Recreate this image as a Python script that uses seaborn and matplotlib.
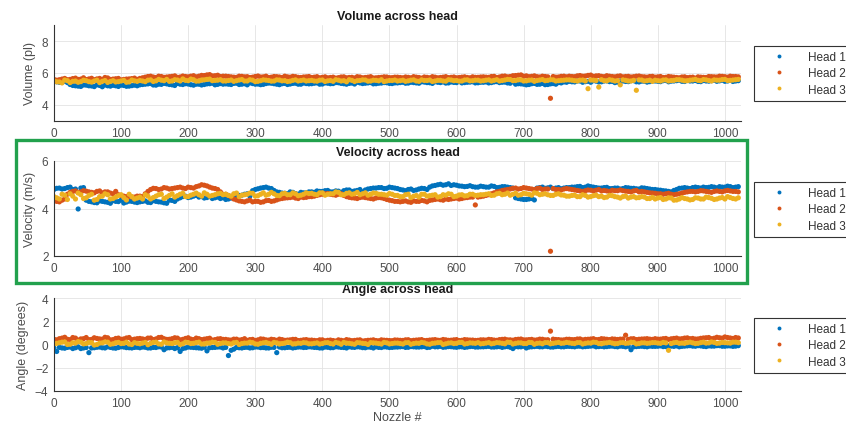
import numpy as np
import pandas as pd
import seaborn as sns
import matplotlib
matplotlib.use("Agg")
import matplotlib.pyplot as plt
from matplotlib.patches import Rectangle

# ---------------- data ----------------
# pass A: nozzles 4, 12, ..., 1020 ; pass B: nozzles 0, 8, ..., 1016
nozzle_a = list(range(4, 1024, 8))
nozzle_b = list(range(0, 1024, 8))
heads = ["Head 1", "Head 2", "Head 3"]

vol_h1 = [5.45, 5.5, 5.4, 5.22, 5.18, 5.25, 5.2, 5.15, 5.22, 5.25, 5.18, 5.2, 5.24, 5.17, 5.21, 5.2,
          5.28, 5.32, 5.25, 5.3, 5.35, 5.28, 5.22, 5.3, 5.33, 5.27, 5.3, 5.25, 5.32, 5.36, 5.29, 5.3,
          5.3, 5.35, 5.28, 5.33, 5.38, 5.3, 5.27, 5.34, 5.36, 5.3, 5.33, 5.28, 5.35, 5.3, 5.37, 5.32,
          5.36, 5.3, 5.38, 5.33, 5.4, 5.35, 5.3, 5.37, 5.42, 5.34, 5.38, 5.32, 5.36, 5.4, 5.35, 5.38,
          5.4, 5.36, 5.42, 5.38, 5.45, 5.4, 5.35, 5.42, 5.44, 5.38, 5.41, 5.46, 5.4, 5.43, 5.38, 5.42,
          5.44, 5.4, 5.46, 5.42, 5.38, 5.45, 5.33, 5.3, 5.28, 5.35, 5.3, 5.27, 5.32, 5.3, 5.38, 5.42,
          5.45, 5.5, 5.42, 5.48, 5.52, 5.44, 5.5, 5.46, 5.4, 5.5, 5.47, 5.52, 5.45, 5.49, 5.43, 5.5,
          5.48, 5.52, 5.45, 5.5, 5.55, 5.47, 5.5, 5.53, 5.46, 5.5, 5.52, 5.48, 5.55, 5.5, 5.47, 5.52]
vol_h1_b = [5.5, 5.42, 5.48, 5.28, 5.2, 5.16, 5.24, 5.19, 5.26, 5.14, 5.2, 5.23, 5.16, 5.22, 5.18, 5.24,
            5.26, 5.3, 5.34, 5.24, 5.29, 5.32, 5.26, 5.35, 5.28, 5.31, 5.24, 5.3, 5.28, 5.33, 5.26, 5.34,
            5.32, 5.28, 5.36, 5.3, 5.26, 5.34, 5.31, 5.29, 5.37, 5.33, 5.27, 5.35, 5.31, 5.36, 5.3, 5.34,
            5.33, 5.38, 5.31, 5.36, 5.34, 5.39, 5.33, 5.35, 5.31, 5.38, 5.36, 5.4, 5.33, 5.37, 5.39, 5.34,
            5.38, 5.42, 5.37, 5.4, 5.36, 5.43, 5.39, 5.45, 5.4, 5.37, 5.44, 5.4, 5.38, 5.42, 5.45, 5.39,
            5.42, 5.38, 5.44, 5.4, 5.43, 5.36, 5.3, 5.32, 5.26, 5.33, 5.29, 5.35, 5.28, 5.34, 5.4, 5.44,
            5.48, 5.44, 5.5, 5.46, 5.42, 5.49, 5.45, 5.51, 5.47, 5.43, 5.5, 5.46, 5.52, 5.44, 5.48, 5.46,
            5.5, 5.46, 5.53, 5.49, 5.52, 5.48, 5.54, 5.5, 5.47, 5.53, 5.49, 5.55, 5.51, 5.48, 5.54, 5.5]
vol_h2 = [5.55, 5.62, 5.58, 5.65, 5.6, 5.7, 5.63, 5.58, 5.66, 5.72, 5.6, 5.64, 5.57, 5.62, 5.65, 5.6,
          5.7, 5.78, 5.75, 5.8, 5.73, 5.77, 5.82, 5.75, 5.78, 5.8, 5.76, 5.85, 5.88, 5.82, 5.86, 5.8,
          5.78, 5.74, 5.8, 5.76, 5.72, 5.78, 5.75, 5.8, 5.74, 5.77, 5.72, 5.76, 5.79, 5.73, 5.75, 5.78,
          5.74, 5.7, 5.76, 5.72, 5.68, 5.75, 5.7, 5.73, 5.77, 5.7, 5.74, 5.69, 5.72, 5.76, 5.71, 5.74,
          5.72, 5.75, 5.7, 5.74, 5.68, 5.73, 5.77, 5.7, 5.74, 5.71, 5.75, 5.72, 5.76, 5.7, 5.73, 5.75,
          5.74, 5.78, 5.72, 5.8, 5.76, 5.83, 5.86, 5.8, 5.77, 5.82, 5.75, 5.78, 4.42, 5.74, 5.79, 5.76,
          5.78, 5.82, 5.8, 5.85, 5.79, 5.83, 5.77, 5.8, 5.76, 5.82, 5.78, 5.75, 5.8, 5.77, 5.74, 5.79,
          5.76, 5.72, 5.78, 5.74, 5.7, 5.76, 5.73, 5.68, 5.74, 5.72, 5.77, 5.75, 5.79, 5.74, 5.78, 5.76]
vol_h2_b = [5.6, 5.58, 5.66, 5.6, 5.68, 5.62, 5.59, 5.67, 5.63, 5.6, 5.69, 5.62, 5.66, 5.6, 5.63, 5.68,
            5.66, 5.74, 5.8, 5.72, 5.78, 5.75, 5.79, 5.73, 5.81, 5.76, 5.83, 5.8, 5.84, 5.9, 5.83, 5.78,
            5.8, 5.76, 5.73, 5.79, 5.77, 5.74, 5.81, 5.76, 5.72, 5.78, 5.75, 5.8, 5.74, 5.77, 5.72, 5.76,
            5.72, 5.77, 5.73, 5.7, 5.74, 5.71, 5.76, 5.72, 5.69, 5.75, 5.72, 5.77, 5.7, 5.73, 5.75, 5.71,
            5.74, 5.7, 5.73, 5.77, 5.72, 5.75, 5.7, 5.74, 5.72, 5.77, 5.73, 5.7, 5.74, 5.72, 5.76, 5.73,
            5.76, 5.73, 5.79, 5.75, 5.81, 5.78, 5.84, 5.88, 5.82, 5.79, 5.77, 5.8, 5.76, 5.78, 5.75, 5.8,
            5.8, 5.77, 5.84, 5.81, 5.87, 5.82, 5.79, 5.83, 5.78, 5.8, 5.76, 5.79, 5.77, 5.81, 5.76, 5.78,
            5.74, 5.78, 5.73, 5.76, 5.72, 5.75, 5.71, 5.74, 5.76, 5.73, 5.78, 5.76, 5.8, 5.77, 5.8, 5.78]
vol_h3 = [5.45, 5.38, 5.52, 5.48, 5.42, 5.55, 5.46, 5.5, 5.4, 5.53, 5.47, 5.44, 5.5, 5.42, 5.56, 5.48,
          5.5, 5.55, 5.47, 5.6, 5.52, 5.48, 5.58, 5.5, 5.54, 5.62, 5.49, 5.56, 5.6, 5.52, 5.55, 5.5,
          5.53, 5.48, 5.56, 5.5, 5.58, 5.46, 5.52, 5.55, 5.49, 5.57, 5.51, 5.47, 5.54, 5.5, 5.56, 5.52,
          5.5, 5.55, 5.47, 5.53, 5.58, 5.5, 5.45, 5.54, 5.52, 5.57, 5.49, 5.55, 5.51, 5.46, 5.53, 5.56,
          5.52, 5.48, 5.55, 5.5, 5.57, 5.53, 5.47, 5.54, 5.5, 5.58, 5.52, 5.49, 5.56, 5.51, 5.55, 5.5,
          5.55, 5.5, 5.58, 5.53, 5.6, 5.52, 5.57, 5.5, 5.55, 5.48, 5.56, 5.52, 5.58, 5.5, 5.54, 5.57,
          5.55, 5.5, 5.56, 5.02, 5.55, 5.12, 5.52, 5.58, 5.5, 5.26, 5.54, 5.5, 4.92, 5.56, 5.52, 5.48,
          5.52, 5.56, 5.5, 5.54, 5.58, 5.51, 5.55, 5.6, 5.52, 5.57, 5.5, 5.55, 5.59, 5.53, 5.56, 5.6]
vol_h3_b = [5.5, 5.44, 5.56, 5.4, 5.5, 5.46, 5.52, 5.43, 5.55, 5.48, 5.41, 5.52, 5.46, 5.54, 5.44, 5.51,
            5.53, 5.46, 5.57, 5.51, 5.55, 5.6, 5.5, 5.56, 5.63, 5.52, 5.58, 5.5, 5.57, 5.62, 5.54, 5.58,
            5.5, 5.56, 5.52, 5.59, 5.5, 5.55, 5.48, 5.57, 5.53, 5.5, 5.56, 5.52, 5.49, 5.57, 5.53, 5.5,
            5.54, 5.49, 5.56, 5.51, 5.48, 5.55, 5.52, 5.58, 5.47, 5.53, 5.56, 5.5, 5.54, 5.58, 5.5, 5.53,
            5.5, 5.55, 5.51, 5.57, 5.48, 5.53, 5.56, 5.5, 5.54, 5.49, 5.56, 5.53, 5.5, 5.57, 5.52, 5.55,
            5.52, 5.57, 5.54, 5.5, 5.56, 5.59, 5.53, 5.57, 5.51, 5.56, 5.53, 5.59, 5.54, 5.57, 5.52, 5.55,
            5.57, 5.52, 5.55, 5.5, 5.56, 5.53, 5.58, 5.51, 5.55, 5.52, 5.57, 5.5, 5.54, 5.57, 5.5, 5.55,
            5.55, 5.5, 5.57, 5.53, 5.58, 5.55, 5.52, 5.57, 5.54, 5.59, 5.53, 5.57, 5.55, 5.6, 5.54, 5.58]

vel_h1 = [4.85, 4.82, 4.88, 4.8, 3.98, 4.88, 4.3, 4.25, 4.32, 4.28, 4.22, 4.3, 4.35, 4.27, 4.3, 4.25,
          4.3, 4.26, 4.33, 4.28, 4.24, 4.35, 4.3, 4.45, 4.52, 4.48, 4.55, 4.5, 4.46, 4.42, 4.48, 4.45,
          4.4, 4.47, 4.55, 4.6, 4.52, 4.8, 4.86, 4.9, 4.84, 4.7, 4.65, 4.62, 4.68, 4.6, 4.66, 4.7,
          4.68, 4.72, 4.75, 4.7, 4.74, 4.68, 4.78, 4.72, 4.76, 4.7, 4.82, 4.86, 4.88, 4.84, 4.9, 4.86,
          4.8, 4.75, 4.82, 4.78, 4.85, 4.8, 4.95, 5.0, 4.98, 5.04, 5.0, 4.95, 4.92, 4.96, 4.9, 4.94,
          4.9, 4.95, 4.88, 4.92, 4.9, 4.86, 4.42, 4.38, 4.4, 4.36, 4.88, 4.85, 4.9, 4.86, 4.83, 4.88,
          4.9, 4.92, 4.88, 4.95, 4.9, 4.86, 4.88, 4.84, 4.86, 4.82, 4.88, 4.85, 4.83, 4.87, 4.84, 4.8,
          4.78, 4.75, 4.72, 4.76, 4.85, 4.88, 4.84, 4.9, 4.86, 4.88, 4.92, 4.87, 4.9, 4.94, 4.88, 4.92]
vel_h1_b = [4.8, 4.86, 4.84, 4.9, 4.82, 4.86, 4.35, 4.28, 4.24, 4.3, 4.26, 4.33, 4.29, 4.23, 4.31, 4.27,
            4.28, 4.32, 4.25, 4.3, 4.27, 4.22, 4.34, 4.4, 4.5, 4.46, 4.52, 4.48, 4.44, 4.5, 4.45, 4.42,
            4.38, 4.44, 4.5, 4.56, 4.62, 4.75, 4.83, 4.88, 4.86, 4.76, 4.68, 4.64, 4.7, 4.63, 4.68, 4.66,
            4.7, 4.74, 4.72, 4.76, 4.7, 4.73, 4.75, 4.78, 4.74, 4.8, 4.78, 4.84, 4.86, 4.88, 4.85, 4.88,
            4.84, 4.78, 4.8, 4.76, 4.82, 4.84, 4.9, 4.97, 5.02, 5.0, 4.97, 4.98, 4.94, 4.93, 4.92, 4.9,
            4.92, 4.9, 4.93, 4.89, 4.92, 4.88, 4.45, 4.4, 4.38, 4.42, 4.86, 4.9, 4.87, 4.84, 4.88, 4.86,
            4.88, 4.9, 4.93, 4.9, 4.92, 4.88, 4.86, 4.89, 4.84, 4.86, 4.84, 4.87, 4.85, 4.82, 4.86, 4.82,
            4.8, 4.77, 4.74, 4.7, 4.8, 4.86, 4.86, 4.88, 4.88, 4.9, 4.89, 4.9, 4.92, 4.9, 4.92, 4.9]
vel_h2 = [4.3, 4.35, 4.6, 4.72, 4.68, 4.75, 4.7, 4.66, 4.74, 4.7, 4.65, 4.72, 4.55, 4.5, 4.48, 4.52,
          4.5, 4.72, 4.85, 4.8, 4.88, 4.82, 4.86, 4.9, 4.84, 4.88, 4.92, 5.0, 4.95, 4.86, 4.8, 4.6,
          4.55, 4.4, 4.32, 4.28, 4.35, 4.3, 4.26, 4.33, 4.3, 4.36, 4.42, 4.45, 4.48, 4.42, 4.46, 4.5,
          4.52, 4.58, 4.62, 4.6, 4.56, 4.62, 4.5, 4.45, 4.42, 4.48, 4.44, 4.4, 4.46, 4.42, 4.35, 4.3,
          4.28, 4.32, 4.26, 4.3, 4.34, 4.28, 4.36, 4.4, 4.35, 4.38, 4.42, 4.4, 4.45, 4.48, 4.15, 4.5,
          4.55, 4.62, 4.7, 4.76, 4.8, 4.85, 4.82, 4.88, 4.84, 4.8, 4.86, 4.82, 2.2, 4.8, 4.78, 4.84,
          4.8, 4.76, 4.72, 4.78, 4.74, 4.8, 4.76, 4.72, 4.75, 4.78, 4.73, 4.7, 4.76, 4.72, 4.68, 4.65,
          4.62, 4.6, 4.64, 4.58, 4.62, 4.68, 4.72, 4.7, 4.75, 4.72, 4.68, 4.74, 4.7, 4.76, 4.72, 4.7]
vel_h2_b = [4.35, 4.28, 4.4, 4.68, 4.74, 4.7, 4.73, 4.68, 4.72, 4.66, 4.7, 4.62, 4.58, 4.52, 4.5, 4.48,
            4.52, 4.62, 4.8, 4.84, 4.82, 4.86, 4.84, 4.88, 4.86, 4.9, 4.86, 4.95, 4.98, 4.9, 4.84, 4.7,
            4.6, 4.48, 4.36, 4.3, 4.32, 4.28, 4.3, 4.28, 4.34, 4.32, 4.4, 4.44, 4.46, 4.44, 4.48, 4.47,
            4.5, 4.55, 4.6, 4.63, 4.58, 4.6, 4.55, 4.47, 4.44, 4.46, 4.46, 4.42, 4.44, 4.45, 4.38, 4.33,
            4.3, 4.3, 4.28, 4.32, 4.3, 4.32, 4.34, 4.38, 4.37, 4.4, 4.4, 4.44, 4.42, 4.46, 4.48, 4.48,
            4.52, 4.58, 4.66, 4.72, 4.78, 4.82, 4.86, 4.84, 4.86, 4.82, 4.84, 4.8, 4.82, 4.84, 4.8, 4.82,
            4.82, 4.78, 4.74, 4.75, 4.77, 4.77, 4.74, 4.74, 4.77, 4.75, 4.75, 4.72, 4.74, 4.7, 4.7, 4.66,
            4.64, 4.62, 4.62, 4.6, 4.6, 4.65, 4.7, 4.72, 4.72, 4.74, 4.7, 4.72, 4.72, 4.74, 4.74, 4.72]
vel_h3 = [4.45, 4.6, 4.38, 4.52, 4.65, 4.42, 4.55, 4.35, 4.5, 4.62, 4.4, 4.48, 4.58, 4.36, 4.5, 4.44,
          4.4, 4.52, 4.46, 4.58, 4.42, 4.55, 4.48, 4.6, 4.5, 4.56, 4.65, 4.52, 4.6, 4.55, 4.62, 4.58,
          4.55, 4.62, 4.5, 4.58, 4.65, 4.52, 4.6, 4.56, 4.68, 4.55, 4.62, 4.58, 4.66, 4.54, 4.6, 4.63,
          4.6, 4.66, 4.56, 4.62, 4.7, 4.58, 4.64, 4.6, 4.68, 4.62, 4.56, 4.65, 4.6, 4.58, 4.63, 4.55,
          4.5, 4.58, 4.46, 4.55, 4.6, 4.52, 4.56, 4.48, 4.58, 4.62, 4.5, 4.57, 4.53, 4.6, 4.55, 4.58,
          4.6, 4.55, 4.62, 4.58, 4.65, 4.6, 4.56, 4.64, 4.6, 4.66, 4.58, 4.62, 4.55, 4.6, 4.57, 4.52,
          4.55, 4.5, 4.58, 4.48, 4.54, 4.5, 4.46, 4.55, 4.5, 4.44, 4.52, 4.48, 4.45, 4.5, 4.42, 4.47,
          4.44, 4.38, 4.45, 4.35, 4.4, 4.42, 4.36, 4.45, 4.4, 4.48, 4.43, 4.4, 4.46, 4.5, 4.42, 4.45]
vel_h3_b = [4.5, 4.4, 4.56, 4.62, 4.4, 4.58, 4.45, 4.6, 4.38, 4.52, 4.58, 4.42, 4.54, 4.46, 4.6, 4.4,
            4.48, 4.58, 4.4, 4.52, 4.6, 4.48, 4.62, 4.54, 4.64, 4.5, 4.6, 4.58, 4.66, 4.52, 4.58, 4.64,
            4.6, 4.52, 4.65, 4.56, 4.6, 4.64, 4.54, 4.66, 4.6, 4.62, 4.54, 4.64, 4.58, 4.62, 4.56, 4.66,
            4.64, 4.58, 4.66, 4.6, 4.62, 4.68, 4.58, 4.66, 4.62, 4.58, 4.66, 4.6, 4.64, 4.6, 4.56, 4.6,
            4.55, 4.5, 4.6, 4.52, 4.48, 4.6, 4.54, 4.58, 4.5, 4.56, 4.6, 4.52, 4.58, 4.54, 4.6, 4.56,
            4.58, 4.62, 4.56, 4.64, 4.6, 4.56, 4.64, 4.58, 4.62, 4.56, 4.64, 4.6, 4.58, 4.55, 4.62, 4.56,
            4.52, 4.56, 4.5, 4.55, 4.5, 4.56, 4.52, 4.48, 4.54, 4.48, 4.5, 4.44, 4.5, 4.46, 4.48, 4.42,
            4.4, 4.46, 4.4, 4.44, 4.36, 4.46, 4.4, 4.38, 4.44, 4.4, 4.46, 4.38, 4.44, 4.4, 4.46, 4.4]

ang_h1 = [-0.6, -0.3, -0.25, -0.35, -0.2, -0.3, -0.7, -0.28, -0.22, -0.3, -0.25, -0.32, -0.2, -0.27, -0.3, -0.24,
          -0.22, -0.3, -0.25, -0.2, -0.45, -0.28, -0.35, -0.6, -0.3, -0.24, -0.28, -0.32, -0.55, -0.26, -0.22, -0.3,
          -0.95, -0.4, -0.28, -0.25, -0.3, -0.22, -0.27, -0.3, -0.24, -0.7, -0.28, -0.25, -0.3, -0.22, -0.26, -0.2,
          -0.25, -0.3, -0.22, -0.28, -0.2, -0.25, -0.3, -0.24, -0.2, -0.27, -0.22, -0.3, -0.25, -0.2, -0.26, -0.22,
          -0.2, -0.25, -0.18, -0.22, -0.2, -0.26, -0.15, -0.2, -0.24, -0.18, -0.22, -0.2, -0.25, -0.18, -0.22, -0.2,
          -0.18, -0.22, -0.2, -0.25, -0.18, -0.35, -0.2, -0.15, -0.22, -0.18, -0.2, -0.15, -0.22, -0.18, -0.2, -0.16,
          -0.18, -0.15, -0.2, -0.16, -0.12, -0.18, -0.2, -0.15, -0.18, -0.14, -0.2, -0.45, -0.18, -0.15, -0.2, -0.16,
          -0.15, -0.18, -0.12, -0.16, -0.2, -0.14, -0.1, -0.15, -0.12, -0.18, -0.14, -0.1, -0.15, -0.12, -0.16, -0.1]
ang_h1_b = [-0.3, -0.25, -0.32, -0.22, -0.28, -0.35, -0.26, -0.3, -0.24, -0.28, -0.2, -0.3, -0.26, -0.22, -0.28, -0.25,
            -0.28, -0.24, -0.3, -0.26, -0.22, -0.3, -0.25, -0.28, -0.35, -0.22, -0.26, -0.3, -0.24, -0.28, -0.25, -0.22,
            -0.25, -0.5, -0.26, -0.3, -0.24, -0.28, -0.22, -0.26, -0.3, -0.25, -0.22, -0.28, -0.24, -0.26, -0.22, -0.25,
            -0.22, -0.26, -0.3, -0.24, -0.27, -0.22, -0.26, -0.2, -0.25, -0.22, -0.28, -0.24, -0.2, -0.26, -0.22, -0.25,
            -0.22, -0.18, -0.24, -0.2, -0.22, -0.18, -0.24, -0.2, -0.16, -0.22, -0.19, -0.24, -0.2, -0.22, -0.17, -0.22,
            -0.2, -0.16, -0.22, -0.18, -0.2, -0.24, -0.18, -0.2, -0.3, -0.2, -0.16, -0.2, -0.18, -0.22, -0.16, -0.2,
            -0.16, -0.2, -0.15, -0.18, -0.14, -0.2, -0.16, -0.18, -0.14, -0.2, -0.16, -0.15, -0.2, -0.16, -0.18, -0.14,
            -0.16, -0.12, -0.18, -0.14, -0.12, -0.16, -0.12, -0.14, -0.1, -0.16, -0.12, -0.14, -0.1, -0.15, -0.12, -0.14]
ang_h2 = [0.4, 0.55, 0.45, 0.6, 0.38, 0.5, 0.42, 0.58, 0.48, 0.62, 0.4, 0.52, 0.45, 0.56, 0.42, 0.5,
          0.48, 0.55, 0.42, 0.6, 0.5, 0.45, 0.58, 0.4, 0.52, 0.46, 0.55, 0.42, 0.5, 0.38, 0.48, 0.44,
          0.4, 0.46, 0.38, 0.5, 0.42, 0.35, 0.48, 0.4, 0.45, 0.36, 0.42, 0.38, 0.44, 0.34, 0.4, 0.37,
          0.35, 0.4, 0.32, 0.38, 0.3, 0.36, 0.42, 0.33, 0.38, 0.3, 0.36, 0.4, 0.32, 0.37, 0.34, 0.39,
          0.36, 0.4, 0.33, 0.38, 0.42, 0.35, 0.4, 0.37, 0.43, 0.36, 0.4, 0.34, 0.42, 0.38, 0.35, 0.4,
          0.38, 0.42, 0.36, 0.44, 0.4, 0.37, 0.45, 0.4, 0.42, 0.38, 0.46, 0.4, 1.15, 0.43, 0.39, 0.45,
          0.42, 0.47, 0.4, 0.45, 0.5, 0.43, 0.48, 0.42, 0.46, 0.46, 0.8, 0.49, 0.42, 0.47, 0.5, 0.44,
          0.46, 0.5, 0.44, 0.52, 0.48, 0.55, 0.5, 0.47, 0.53, 0.58, 0.5, 0.62, 0.55, 0.6, 0.52, 0.56]
ang_h2_b = [0.45, 0.5, 0.62, 0.42, 0.55, 0.48, 0.6, 0.44, 0.52, 0.46, 0.58, 0.42, 0.55, 0.48, 0.6, 0.46,
            0.52, 0.44, 0.56, 0.48, 0.62, 0.44, 0.5, 0.55, 0.44, 0.58, 0.42, 0.5, 0.46, 0.54, 0.42, 0.5,
            0.44, 0.38, 0.46, 0.42, 0.36, 0.44, 0.4, 0.46, 0.38, 0.42, 0.46, 0.36, 0.4, 0.44, 0.36, 0.42,
            0.38, 0.33, 0.4, 0.36, 0.34, 0.4, 0.32, 0.38, 0.35, 0.4, 0.33, 0.37, 0.34, 0.4, 0.36, 0.33,
            0.38, 0.35, 0.41, 0.36, 0.4, 0.34, 0.38, 0.42, 0.36, 0.4, 0.37, 0.42, 0.36, 0.4, 0.38, 0.36,
            0.4, 0.44, 0.38, 0.42, 0.46, 0.4, 0.43, 0.47, 0.4, 0.44, 0.4, 0.45, 0.41, 0.46, 0.42, 0.4,
            0.45, 0.42, 0.48, 0.44, 0.47, 0.42, 0.5, 0.45, 0.48, 0.43, 0.47, 0.44, 0.5, 0.45, 0.48, 0.46,
            0.5, 0.46, 0.52, 0.49, 0.55, 0.5, 0.57, 0.52, 0.48, 0.56, 0.6, 0.54, 0.58, 0.65, 0.56, 0.6]
ang_h3 = [0.1, 0.2, 0.0, 0.15, 0.25, 0.05, 0.18, -0.05, 0.12, 0.22, 0.02, 0.15, 0.08, 0.2, 0.0, 0.1,
          0.12, -0.02, 0.18, 0.05, 0.22, 0.1, 0.15, 0.0, 0.2, 0.08, 0.16, 0.04, 0.12, 0.2, 0.02, 0.14,
          0.08, 0.15, 0.0, 0.12, 0.2, 0.05, 0.1, 0.18, 0.02, 0.14, 0.08, 0.2, 0.04, 0.12, 0.16, 0.06,
          0.1, 0.04, 0.15, 0.08, 0.18, 0.02, 0.12, 0.06, 0.16, 0.1, 0.0, 0.14, 0.08, 0.18, 0.05, 0.12,
          0.08, 0.15, 0.02, 0.12, 0.18, 0.05, 0.1, 0.16, 0.0, 0.12, 0.08, 0.18, 0.04, 0.14, 0.1, 0.06,
          0.12, 0.06, 0.16, 0.1, 0.2, 0.04, 0.14, 0.08, 0.18, 0.02, 0.12, 0.16, 0.06, 0.14, 0.1, 0.18,
          0.1, 0.16, 0.04, 0.14, 0.2, 0.08, 0.12, 0.18, 0.06, 0.15, 0.1, 0.2, 0.05, 0.14, 0.1, 0.16,
          0.12, 0.18, -0.5, 0.15, 0.1, 0.1, 0.2, 0.08, 0.16, 0.12, 0.22, 0.1, 0.18, 0.14, 0.2, 0.16]
ang_h3_b = [0.05, 0.15, 0.22, 0.02, 0.12, 0.2, 0.08, 0.16, 0.0, 0.14, 0.2, 0.06, 0.18, 0.1, 0.04, 0.16,
            0.06, 0.18, 0.1, 0.2, 0.02, 0.14, 0.08, 0.18, 0.06, 0.16, 0.1, 0.2, 0.04, 0.12, 0.18, 0.08,
            0.14, 0.04, 0.18, 0.08, 0.12, 0.16, 0.02, 0.14, 0.1, 0.18, 0.04, 0.12, 0.16, 0.06, 0.1, 0.14,
            0.06, 0.14, 0.08, 0.16, 0.04, 0.12, 0.18, 0.1, 0.02, 0.14, 0.08, 0.16, 0.12, 0.04, 0.14, 0.08,
            0.12, 0.04, 0.16, 0.08, 0.1, 0.14, 0.02, 0.12, 0.16, 0.06, 0.14, 0.1, 0.18, 0.08, 0.12, 0.16,
            0.08, 0.16, 0.1, 0.14, 0.06, 0.18, 0.1, 0.14, 0.08, 0.16, 0.1, 0.06, 0.16, 0.1, 0.18, 0.12,
            0.14, 0.08, 0.16, 0.1, 0.12, 0.18, 0.06, 0.14, 0.12, 0.08, 0.16, 0.12, 0.18, 0.08, 0.14, 0.12,
            0.16, 0.1, 0.14, 0.08, 0.18, 0.12, 0.16, 0.14, 0.1, 0.2, 0.14, 0.18, 0.12, 0.16, 0.12, 0.2]

x_ticks = [0, 100, 200, 300, 400, 500, 600, 700, 800, 900, 1000]
panels = [
    ("Volume across head", "Volume (pl)",
     [(vol_h1, vol_h1_b), (vol_h2, vol_h2_b), (vol_h3, vol_h3_b)], (3, 9), [4, 6, 8]),
    ("Velocity across head", "Velocity (m/s)",
     [(vel_h1, vel_h1_b), (vel_h2, vel_h2_b), (vel_h3, vel_h3_b)], (2, 6), [2, 4, 6]),
    ("Angle across head", "Angle (degrees)",
     [(ang_h1, ang_h1_b), (ang_h2, ang_h2_b), (ang_h3, ang_h3_b)], (-4, 4), [-4, -2, 0, 2, 4]),
]
palette = {"Head 1": "#0072BD", "Head 2": "#D95319", "Head 3": "#EDB120"}

# ---------------- figure ----------------
sns.set_theme(style="white")
plt.rcParams["font.family"] = ["Liberation Sans", "DejaVu Sans"]

W, H = 846, 435
fig = plt.figure(figsize=(W / 100, H / 100), dpi=100)

def fx(px):
    return px / W

def fy(py):
    return 1 - py / H

ax_boxes = [(54, 26, 741, 122), (54, 162, 741, 257), (54, 299, 741, 392)]
legend_tops = [47, 183, 319]
text_col = "#4d4d4d"

for (title, ylab, series, ylim, yticks), (l, t, r, b), ltop in zip(panels, ax_boxes, legend_tops):
    ax = fig.add_axes([fx(l), fy(b), fx(r) - fx(l), fy(t) - fy(b)])
    frames = []
    for h, (va, vb) in zip(heads, series):
        frames.append(pd.DataFrame({"Nozzle": nozzle_a + nozzle_b, "Value": va + vb, "Head": h}))
    df = pd.concat(frames, ignore_index=True)
    sns.scatterplot(data=df, x="Nozzle", y="Value", hue="Head", palette=palette,
                    hue_order=heads, s=14, linewidth=0, marker="o", ax=ax, legend=True)
    ax.set_xlim(0, 1024)
    ax.set_ylim(*ylim)
    ax.set_xticks(x_ticks)
    ax.set_yticks(yticks)
    ax.grid(True, color="#e3e3e3", linewidth=0.6)
    ax.set_axisbelow(True)
    for s in ["top", "right"]:
        ax.spines[s].set_visible(False)
    for s in ["left", "bottom"]:
        ax.spines[s].set_color("#333333")
        ax.spines[s].set_linewidth(0.8)
    ax.tick_params(direction="in", length=4, width=0.8, color="#333333",
                   labelsize=8.5, labelcolor=text_col, pad=4)
    ax.set_title(title, fontsize=9, fontweight="bold", color="#1a1a1a", pad=4)
    ax.set_ylabel(ylab, fontsize=9, color=text_col, labelpad=4)
    ax.set_xlabel("")
    handles, labels = ax.get_legend_handles_labels()
    ax.legend(handles, labels, loc="upper left",
              bbox_to_anchor=(fx(754), fy(ltop)), bbox_transform=fig.transFigure,
              frameon=True, fancybox=False, edgecolor="#333333", framealpha=1,
              fontsize=8.5, handlelength=3.3, handletextpad=0.8, borderpad=0.45,
              labelspacing=0.35, markerscale=0.75, borderaxespad=0)
    ax.get_legend().get_frame().set_linewidth(0.8)
    for txt in ax.get_legend().get_texts():
        txt.set_color("#333333")
    if title.startswith("Angle"):
        ax.set_xlabel("Nozzle #", fontsize=9, color=text_col, labelpad=2)

# green highlight rectangle
rect = Rectangle((fx(15.5), fy(283.5)), fx(747) - fx(15.5), fy(140.5) - fy(283.5),
                 transform=fig.transFigure, fill=False, edgecolor="#22A14D",
                 linewidth=2.4, zorder=10)
fig.patches.append(rect)

fig.savefig("out.png", dpi=100)
